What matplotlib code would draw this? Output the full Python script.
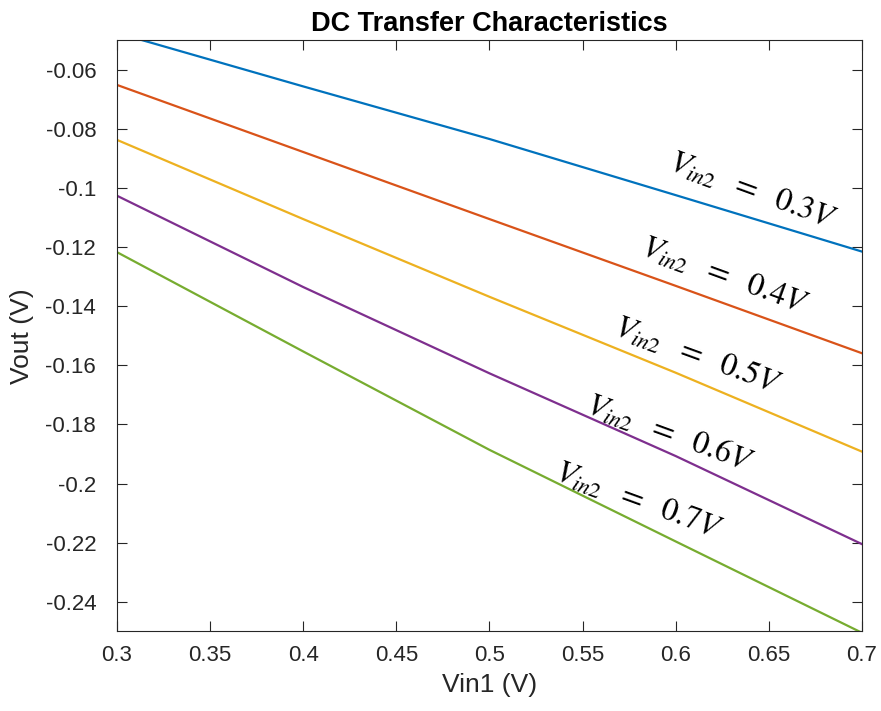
import matplotlib
matplotlib.use("Agg")
import matplotlib.pyplot as plt

plt.rcParams['font.family'] = ['Liberation Sans', 'DejaVu Sans']
plt.rcParams['mathtext.fontset'] = 'stix'

# Data
vin1 = [0.3, 0.4, 0.5, 0.6, 0.7]
vout_03 = [-0.0475, -0.0656, -0.0834, -0.1024, -0.1215]
vout_04 = [-0.0651, -0.0878, -0.1105, -0.1331, -0.1559]
vout_05 = [-0.0837, -0.1105, -0.1368, -0.1625, -0.1892]
vout_06 = [-0.1026, -0.1335, -0.1627, -0.1907, -0.2205]
vout_07 = [-0.1217, -0.1553, -0.1886, -0.2196, -0.2505]
series = [vout_03, vout_04, vout_05, vout_06, vout_07]
labels = ['0.3', '0.4', '0.5', '0.6', '0.7']
colors = ['#0072BD', '#D95319', '#EDB120', '#7E2F8E', '#77AC30']
label_x = [0.641, 0.626, 0.6116, 0.5965, 0.580]
label_y = [-0.1013, -0.130, -0.1568, -0.1832, -0.2062]

xticks = [0.3, 0.35, 0.4, 0.45, 0.5, 0.55, 0.6, 0.65, 0.7]
xticklabels = ['0.3', '0.35', '0.4', '0.45', '0.5', '0.55', '0.6', '0.65', '0.7']
yticks = [-0.24, -0.22, -0.2, -0.18, -0.16, -0.14, -0.12, -0.1, -0.08, -0.06]
yticklabels = ['-0.24', '-0.22', '-0.2', '-0.18', '-0.16', '-0.14', '-0.12', '-0.1', '-0.08', '-0.06']

fig = plt.figure(figsize=(8.81, 7.11), dpi=100)
ax = fig.add_axes([0.1328, 0.1121, 0.8456, 0.8312])

for ys, c in zip(series, colors):
    ax.plot(vin1, ys, color=c, lw=1.6)

for lab, lx, ly in zip(labels, label_x, label_y):
    ax.text(lx, ly, r'$V_{in2}\ \ =\ \ ' + lab + r'V$', fontsize=23,
            rotation=-20, rotation_mode='anchor', ha='center', va='center',
            color='black')

ax.set_xlim(0.3, 0.7)
ax.set_ylim(-0.25, -0.05)
ax.set_xticks(xticks)
ax.set_xticklabels(xticklabels)
ax.set_yticks(yticks)
ax.set_yticklabels(yticklabels)
ax.tick_params(direction='in', length=7, width=0.8, top=True, right=True,
               labelsize=16, colors='#262626')
ax.tick_params(axis='y', pad=15)
ax.tick_params(axis='x', pad=10)
for s in ax.spines.values():
    s.set_color('#262626')
    s.set_linewidth(0.8)

ax.set_xlabel('Vin1 (V)', fontsize=19, color='#262626', labelpad=5)
ax.set_ylabel('Vout (V)', fontsize=19, color='#262626', labelpad=8)
ax.set_title('DC Transfer Characteristics', fontsize=19.5, fontweight='bold',
             color='black', pad=7)

fig.savefig('out.png', dpi=100)
